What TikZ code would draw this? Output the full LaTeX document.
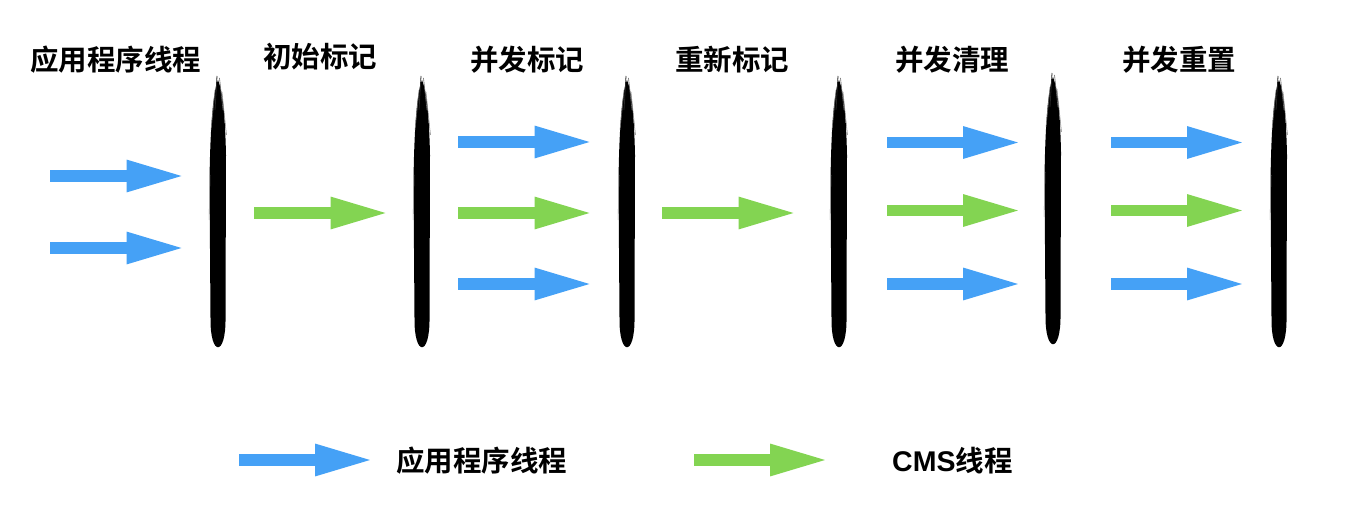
\documentclass[tikz,border=0pt]{standalone}
\usepackage{fontspec}
\newfontfamily\cjkb{Noto Sans CJK SC Bold}
\newfontfamily\libb{Liberation Sans Bold}
\usetikzlibrary{arrows.meta}
\definecolor{appblue}{RGB}{69,161,246}
\definecolor{cmsgreen}{RGB}{131,212,82}
\tikzset{
  lbl/.style={font=\cjkb\fontsize{28.5}{32}\selectfont, inner sep=0pt, text=black},
  appar/.style={draw=appblue, line width=11.5pt, -{Triangle[length=59pt,width=29pt]}},
  cmsar/.style={draw=cmsgreen, line width=11.5pt, -{Triangle[length=59pt,width=29pt]}},
}
% name, x, top, bottom
\newcommand\brushbar[4]{%
  \coordinate (#1) at (#2,{(#3+#4)/2});
  \fill[black] (#2,#3) .. controls (#2+4,#3+10) and (#2+7,#3+30) .. (#2+8,#3+75)
    -- (#2+7.5,#4-30) .. controls (#2+8,#4+9) and (#2-8,#4+9) .. (#2-7.5,#4-30)
    -- (#2-8.5,#3+100) .. controls (#2-7.5,#3+35) and (#2-4,#3+10) .. (#2,#3) -- cycle;
  \draw[black!85, line width=0.8pt] (#2-1,#3-4) -- (#2-3,#3+30);
  \draw[black!60, line width=0.6pt] (#2+1.5,#3-2) -- (#2+5,#3+30);
  \draw[black!50, line width=0.5pt] (#2-3,#3+10) -- (#2-7,#3+50);
  \draw[black!50, line width=0.5pt] (#2+4,#3+12) -- (#2+8.5,#3+55);
  \draw[black!40, line width=0.5pt] (#2-8,#3+95) -- (#2-9,#3+140);
}
\begin{document}
\begin{tikzpicture}[x=1pt,y=-1pt]
\useasboundingbox (0,0) rectangle (1366,526);
\fill[white] (0,0) rectangle (1366,526);
% titles
\node[lbl] (t1) at (116,60) {应用程序线程};
\node[lbl] (t2) at (320,57) {初始标记};
\node[lbl] (t3) at (527,60) {并发标记};
\node[lbl] (t4) at (732,60) {重新标记};
\node[lbl] (t5) at (952,60) {并发清理};
\node[lbl] (t6) at (1179,60) {并发重置};
% bars
\brushbar{b1}{218}{80}{348}
\brushbar{b2}{422}{80}{348}
\brushbar{b3}{627}{80}{348}
\brushbar{b4}{839}{80}{348}
\brushbar{b5}{1053}{77}{345}
\brushbar{b6}{1279}{80}{348}
% column 1
\coordinate (a1s) at (50,176); \coordinate (a1e) at (185.5,176);
\coordinate (a2s) at (50,248); \coordinate (a2e) at (185.5,248);
\draw[appar] (a1s) -- (a1e);
\draw[appar] (a2s) -- (a2e);
% column 2
\coordinate (c2s) at (254,213); \coordinate (c2e) at (389.5,213);
\draw[cmsar] (c2s) -- (c2e);
% column 3
\coordinate (d1s) at (458,142); \coordinate (d1e) at (593.5,142);
\coordinate (d2s) at (458,213); \coordinate (d2e) at (593.5,213);
\coordinate (d3s) at (458,284); \coordinate (d3e) at (593.5,284);
\draw[appar] (d1s) -- (d1e);
\draw[cmsar] (d2s) -- (d2e);
\draw[appar] (d3s) -- (d3e);
% column 4
\coordinate (e2s) at (662,213); \coordinate (e2e) at (797.5,213);
\draw[cmsar] (e2s) -- (e2e);
% column 5
\coordinate (f1s) at (887,142.5); \coordinate (f1e) at (1022,142.5);
\coordinate (f2s) at (887,210.5); \coordinate (f2e) at (1022,210.5);
\coordinate (f3s) at (887,284); \coordinate (f3e) at (1022,284);
\draw[appar] (f1s) -- (f1e);
\draw[cmsar] (f2s) -- (f2e);
\draw[appar] (f3s) -- (f3e);
% column 6
\coordinate (g1s) at (1111,142.5); \coordinate (g1e) at (1246,142.5);
\coordinate (g2s) at (1111,210.5); \coordinate (g2e) at (1246,210.5);
\coordinate (g3s) at (1111,284); \coordinate (g3e) at (1246,284);
\draw[appar] (g1s) -- (g1e);
\draw[cmsar] (g2s) -- (g2e);
\draw[appar] (g3s) -- (g3e);
% legend
\coordinate (l1s) at (239,460); \coordinate (l1e) at (374,460);
\draw[appar] (l1s) -- (l1e);
\node[lbl, anchor=west] (lt1) at (396,461) {应用程序线程};
\coordinate (l2s) at (694,460); \coordinate (l2e) at (829,460);
\draw[cmsar] (l2s) -- (l2e);
\node[lbl, anchor=west] (lt2) at (892,461) {{\libb CMS}线程};
\end{tikzpicture}
\end{document}
